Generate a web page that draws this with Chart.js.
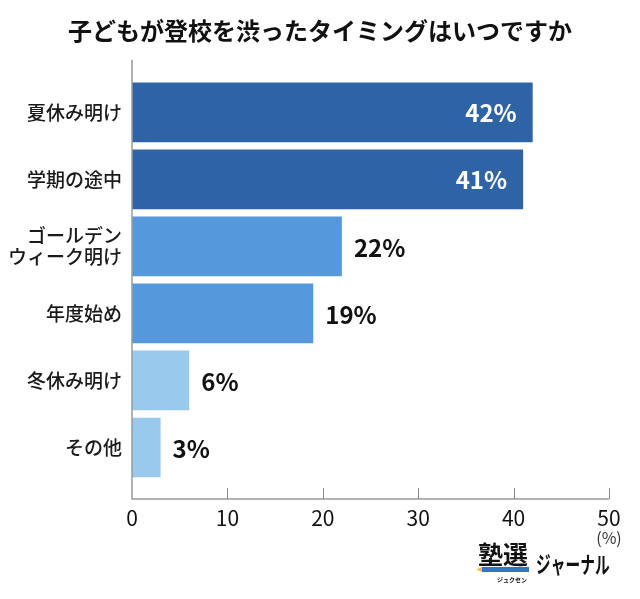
<!DOCTYPE html>
<html lang="ja">
<head>
<meta charset="utf-8">
<title>子どもが登校を渋ったタイミング</title>
<script src="https://cdn.jsdelivr.net/npm/chart.js@4/dist/chart.umd.min.js"></script>
<style>
  html, body { margin: 0; padding: 0; background: #fff; }
  #wrap { width: 640px; height: 599px; position: relative; }
</style>
</head>
<body>
<div id="wrap"><canvas id="timingChart"></canvas></div>
<script>
// データ
const categories = ["夏休み明け", "学期の途中", ["ゴールデン", "ウィーク明け"], "年度始め", "冬休み明け", "その他"];
const values = [42, 41, 22, 19, 6, 3];
const xTickValues = [0, 10, 20, 30, 40, 50];
const chartTitle = "子どもが登校を渋ったタイミングはいつですか";
const unitLabel = "(%)";

const barColors = ["#2e64a6", "#2e64a6", "#5599dc", "#5599dc", "#99c9ed", "#99c9ed"];
const FONT = "'Noto Sans CJK JP', 'Noto Sans', sans-serif";

// 軸線と目盛り（プロット内側に向く短い目盛り）
const axisPlugin = {
  id: "axisLines",
  afterDatasetsDraw(chart) {
    const { ctx, chartArea, scales } = chart;
    const xs = scales.x;
    const axisY = chartArea.bottom + 18;
    const topY = chartArea.top - 19;
    ctx.save();
    ctx.strokeStyle = "#9a9a9a";
    ctx.lineWidth = 1.5;
    ctx.beginPath();
    ctx.moveTo(chartArea.left, topY);
    ctx.lineTo(chartArea.left, axisY);
    ctx.lineTo(chartArea.right, axisY);
    ctx.stroke();
    ctx.lineWidth = 1;
    ctx.strokeStyle = "#888";
    xTickValues.forEach((v) => {
      if (v === 0) return;
      const px = Math.round(xs.getPixelForValue(v)) + 0.5;
      ctx.beginPath();
      ctx.moveTo(px, axisY - 11);
      ctx.lineTo(px, axisY);
      ctx.stroke();
    });
    // 単位
    ctx.fillStyle = "#333";
    ctx.font = "16px " + FONT;
    ctx.textAlign = "center";
    ctx.textBaseline = "middle";
    ctx.fillText(unitLabel, xs.getPixelForValue(50), axisY + 39);
    ctx.restore();
  },
};

// 値ラベル
const valueLabelPlugin = {
  id: "valueLabels",
  afterDatasetsDraw(chart) {
    const { ctx } = chart;
    const meta = chart.getDatasetMeta(0);
    ctx.save();
    ctx.font = "bold 24px " + FONT;
    ctx.textBaseline = "middle";
    meta.data.forEach((bar, i) => {
      const txt = values[i] + "%";
      if (values[i] >= 30) {
        ctx.fillStyle = "#fff";
        ctx.textAlign = "right";
        ctx.fillText(txt, bar.x - 16, bar.y + 1);
      } else {
        ctx.fillStyle = "#111";
        ctx.textAlign = "left";
        ctx.fillText(txt, bar.x + 12, bar.y + 1);
      }
    });
    ctx.restore();
  },
};

// ロゴ（塾選ジャーナル）
const logoPlugin = {
  id: "logo",
  afterDraw(chart) {
    const { ctx } = chart;
    ctx.save();
    ctx.fillStyle = "#111";
    ctx.textBaseline = "alphabetic";
    ctx.textAlign = "left";
    ctx.font = "bold 25px " + FONT;
    ctx.fillText("塾選", 478, 564);
    // 鉛筆の帯
    ctx.fillStyle = "#3574bf";
    ctx.fillRect(482, 567, 47, 5);
    ctx.fillStyle = "#e8c440";
    ctx.beginPath();
    ctx.moveTo(482, 567);
    ctx.lineTo(476, 569.5);
    ctx.lineTo(482, 572);
    ctx.closePath();
    ctx.fill();
    ctx.fillStyle = "#111";
    ctx.font = "bold 6px " + FONT;
    ctx.fillText("ジュクセン", 497, 582);
    ctx.translate(536, 573);
    ctx.scale(0.64, 1);
    ctx.font = "bold 23px " + FONT;
    ctx.fillText("ジャーナル", 0, 0);
    ctx.restore();
  },
};

const ctx = document.getElementById("timingChart").getContext("2d");
new Chart(ctx, {
  type: "bar",
  data: {
    labels: categories,
    datasets: [
      {
        data: values,
        backgroundColor: barColors,
        borderWidth: 0,
        categoryPercentage: 1,
        barPercentage: 0.89,
      },
    ],
  },
  options: {
    indexAxis: "y",
    responsive: true,
    maintainAspectRatio: false,
    animation: false,
    layout: { padding: 0 },
    plugins: {
      legend: { display: false },
      tooltip: { enabled: false },
      title: {
        display: true,
        text: chartTitle,
        color: "#111",
        font: { family: FONT, size: 24, weight: "bold", lineHeight: 1.2 },
        padding: { top: 16, bottom: 34 },
      },
    },
    scales: {
      x: {
        type: "linear",
        min: 0,
        max: 50,
        grid: { display: false, drawTicks: false },
        border: { display: false },
        ticks: {
          stepSize: 10,
          padding: 24,
          color: "#111",
          font: { family: FONT, size: 21 },
        },
        afterFit(scale) {
          scale.height = 118;
          scale.paddingRight = 31;
        },
      },
      y: {
        grid: { display: false, drawTicks: false },
        border: { display: false },
        ticks: {
          padding: 10,
          color: "#1a1a1a",
          font: { family: FONT, size: 19, weight: "500", lineHeight: 1.1 },
        },
        afterFit(scale) {
          scale.width = 132;
        },
      },
    },
  },
  plugins: [axisPlugin, valueLabelPlugin, logoPlugin],
});
</script>
</body>
</html>
